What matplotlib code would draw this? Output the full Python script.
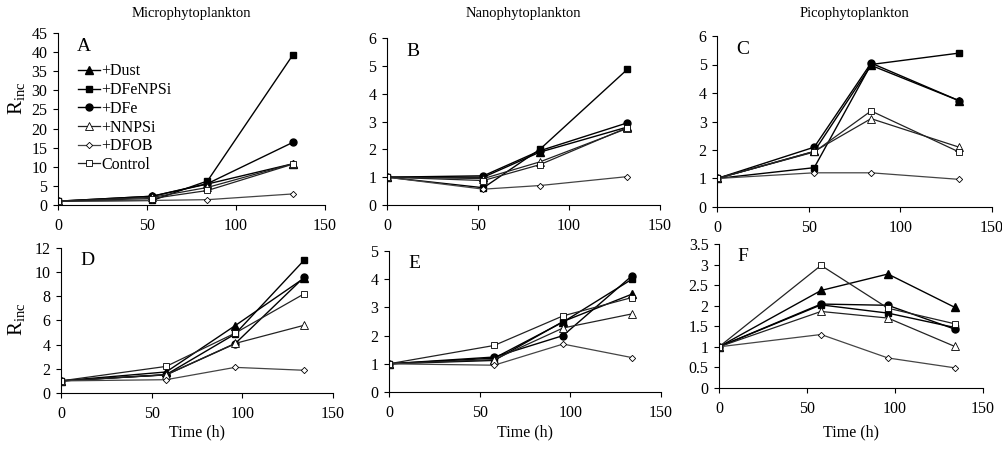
import matplotlib
matplotlib.use("Agg")
import matplotlib.pyplot as plt
from matplotlib.ticker import FormatStrFormatter, MultipleLocator

plt.rcParams['font.family'] = ['Liberation Serif', 'DejaVu Serif']
plt.rcParams['mathtext.fontset'] = 'custom'
plt.rcParams['mathtext.rm'] = 'Liberation Serif'

series_names = ['+Dust', '+DFeNPSi', '+DFe', '+NNPSi', '+DFOB', 'Control']

time_top = [0, 53, 84, 132]
time_bottom = [0, 58, 96, 134]

# Panel A - Microphytoplankton (top)
A_vals = {
    '+Dust':    [1, 2.3, 5.5, 10.8],
    '+DFeNPSi': [1, 1.2, 6.3, 39.3],
    '+DFe':     [1, 2.3, 5.6, 16.4],
    '+NNPSi':   [1, 2.0, 4.6, 10.8],
    '+DFOB':    [1, 1.2, 1.4, 2.9],
    'Control':  [1, 1.7, 3.8, 10.7],
}
# Panel B - Nanophytoplankton (top)
B_vals = {
    '+Dust':    [1, 1.0, 1.9, 2.8],
    '+DFeNPSi': [1, 0.62, 2.0, 4.87],
    '+DFe':     [1, 1.05, 1.95, 2.95],
    '+NNPSi':   [1, 0.95, 1.55, 2.75],
    '+DFOB':    [1, 0.57, 0.7, 1.02],
    'Control':  [1, 0.88, 1.45, 2.78],
}
# Panel C - Picophytoplankton (top)
C_vals = {
    '+Dust':    [1, 1.95, 4.97, 3.73],
    '+DFeNPSi': [1, 1.38, 5.0, 5.4],
    '+DFe':     [1, 2.1, 5.05, 3.73],
    '+NNPSi':   [1, 1.95, 3.1, 2.1],
    '+DFOB':    [1, 1.2, 1.2, 0.97],
    'Control':  [1, 1.93, 3.37, 1.93],
}
# Panel D - Microphytoplankton (bottom)
D_vals = {
    '+Dust':    [1, 1.74, 5.57, 9.5],
    '+DFeNPSi': [1, 1.52, 4.88, 10.98],
    '+DFe':     [1, 1.5, 4.08, 9.57],
    '+NNPSi':   [1, 1.5, 4.1, 5.6],
    '+DFOB':    [1, 1.1, 2.12, 1.88],
    'Control':  [1, 2.2, 4.95, 8.2],
}
# Panel E - Nanophytoplankton (bottom)
E_vals = {
    '+Dust':    [1, 1.12, 2.5, 3.47],
    '+DFeNPSi': [1, 1.2, 2.48, 4.0],
    '+DFe':     [1, 1.24, 2.0, 4.12],
    '+NNPSi':   [1, 1.15, 2.27, 2.77],
    '+DFOB':    [1, 0.95, 1.7, 1.22],
    'Control':  [1, 1.65, 2.7, 3.35],
}
# Panel F - Picophytoplankton (bottom)
F_vals = {
    '+Dust':    [1, 2.37, 2.77, 1.96],
    '+DFeNPSi': [1, 2.02, 1.82, 1.47],
    '+DFe':     [1, 2.04, 2.01, 1.43],
    '+NNPSi':   [1, 1.86, 1.7, 1.01],
    '+DFOB':    [1, 1.3, 0.73, 0.49],
    'Control':  [1, 2.98, 1.94, 1.56],
}

col_titles = ['Microphytoplankton', 'Nanophytoplankton', 'Picophytoplankton']
panel_letters = ['A', 'B', 'C', 'D', 'E', 'F']
xticks = [0, 50, 100, 150]

styles = {
    '+Dust':    dict(marker='^', mfc='black', ms=5.5, lw=1.0, color='black'),
    '+DFeNPSi': dict(marker='s', mfc='black', ms=5, lw=1.0, color='black'),
    '+DFe':     dict(marker='o', mfc='black', ms=5, lw=1.0, color='black'),
    '+NNPSi':   dict(marker='^', mfc='white', ms=5.5, lw=0.9, color='#222222', mew=0.6),
    '+DFOB':    dict(marker='D', mfc='white', ms=3.2, lw=0.9, color='#444444', mew=0.6),
    'Control':  dict(marker='s', mfc='white', ms=5, lw=0.9, color='#222222', mew=0.6),
}

fig = plt.figure(figsize=(10.03, 4.5), dpi=100)

positions = [
    [0.0578, 0.5444, 0.2662, 0.3822],
    [0.3858, 0.5444, 0.2722, 0.3711],
    [0.7149, 0.5400, 0.2742, 0.3800],
    [0.0608, 0.1267, 0.2712, 0.3222],
    [0.3878, 0.1289, 0.2712, 0.3133],
    [0.7168, 0.1378, 0.2632, 0.3200],
]
data = [A_vals, B_vals, C_vals, D_vals, E_vals, F_vals]
ylims = [(0, 45), (0, 6), (0, 6), (0, 12), (0, 5), (0, 3.5)]
ysteps = [5, 1, 1, 2, 1, 0.5]

fs = 11.5
axes = []
for i in range(6):
    ax = fig.add_axes(positions[i])
    axes.append(ax)
    t = time_top if i < 3 else time_bottom
    for name in series_names:
        st = dict(styles[name])
        ax.plot(t, data[i][name], label=name, mec='black', **st)
    ax.set_xlim(0, 150)
    ax.set_ylim(*ylims[i])
    ax.set_xticks(xticks)
    ax.yaxis.set_major_locator(MultipleLocator(ysteps[i]))
    ax.yaxis.set_major_formatter(FormatStrFormatter('%g'))
    for s in ['top', 'right']:
        ax.spines[s].set_visible(False)
    for s in ['left', 'bottom']:
        ax.spines[s].set_linewidth(0.8)
    ax.tick_params(axis='both', direction='out', length=3.5, width=0.8,
                   labelsize=fs, pad=4)
    ax.tick_params(axis='x', pad=6)
    ax.text(0.07, 0.97, panel_letters[i], transform=ax.transAxes,
            fontsize=14, va='top', ha='left')
    pos = positions[i]
    cx = pos[0] + pos[2] / 2
    if i < 3:
        fig.text(cx, 1 - 14 / 450, col_titles[i], fontsize=10.5,
                 ha='center', va='center')
    else:
        fig.text(cx, 1 - 432 / 450, 'Time (h)', fontsize=fs,
                 ha='center', va='center')

fig.text(17 / 1003, 1 - 98 / 450, r'R$_{\rm inc}$', fontsize=15,
         rotation=90, ha='center', va='center')
fig.text(17 / 1003, 1 - 319 / 450, r'R$_{\rm inc}$', fontsize=15,
         rotation=90, ha='center', va='center')

leg = axes[0].legend(loc='upper left', bbox_to_anchor=(0.05, 0.86), frameon=False,
                     fontsize=fs, labelspacing=0.17, handlelength=1.4,
                     handletextpad=0.1, borderaxespad=0)

fig.savefig('out.png', dpi=100)
